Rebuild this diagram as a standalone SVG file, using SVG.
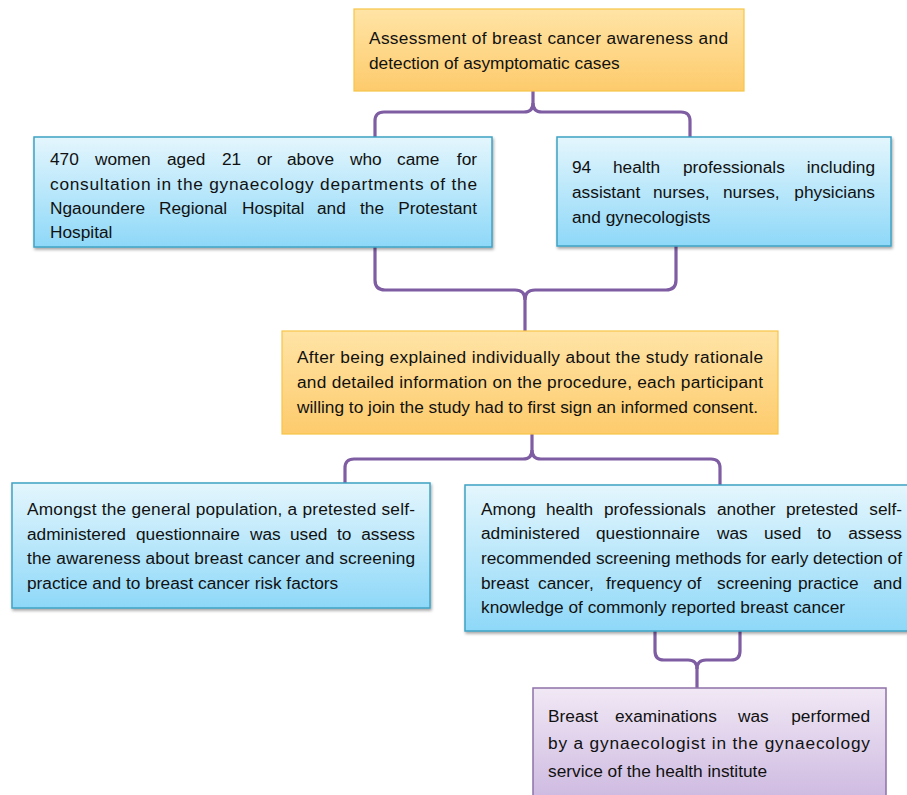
<svg xmlns="http://www.w3.org/2000/svg" width="907" height="795" viewBox="0 0 907 795">
<style>
  text { font-family: "Liberation Sans", Arial, sans-serif; font-size: 17.3px; fill: #111; }
  .orange { fill: url(#gOrange); stroke: #F7C546; stroke-width: 1.2; }
  .blue { fill: url(#gBlue); stroke: #3FA3C4; stroke-width: 1.5; filter: url(#shadow); }
  .purple { fill: url(#gPurple); stroke: #8E72A9; stroke-width: 1.5; }
  .brace { fill: none; stroke: #7E5DA3; stroke-width: 3.2; stroke-linejoin: round; stroke-linecap: butt; }
</style>
<defs>
  <linearGradient id="gOrange" x1="0" y1="0" x2="0" y2="1">
    <stop offset="0" stop-color="#FFE4A6"/>
    <stop offset="1" stop-color="#FDCB6C"/>
  </linearGradient>
  <linearGradient id="gBlue" x1="0" y1="0" x2="0" y2="1">
    <stop offset="0" stop-color="#E4F6FD"/>
    <stop offset="1" stop-color="#8ED8F8"/>
  </linearGradient>
  <linearGradient id="gPurple" x1="0" y1="0" x2="0" y2="1">
    <stop offset="0" stop-color="#F1E8F5"/>
    <stop offset="1" stop-color="#CBB6DF"/>
  </linearGradient>
  <filter id="shadow" x="-5%" y="-5%" width="110%" height="120%">
    <feDropShadow dx="1" dy="2" stdDeviation="1.5" flood-color="#000" flood-opacity="0.35"/>
  </filter>
</defs>

<g id="connectors">
  <path class="brace" d="M533,91 L533,103 Q533,112 524,112 L384,112 Q375,112 375,121 L375,137"/>
  <path class="brace" d="M533,103 Q533,112 542,112 L681,112 Q690,112 690,121 L690,137"/>
  <path class="brace" d="M375,247 L375,280 Q375,290 385,290 L515,290 Q525,290 525,300 L525,331"/>
  <path class="brace" d="M676,246 L676,280 Q676,290 666,290 L535,290 Q525,290 525,300"/>
  <path class="brace" d="M532,434 L532,450 Q532,459 523,459 L354,459 Q345,459 345,468 L345,483"/>
  <path class="brace" d="M532,450 Q532,459 541,459 L711,459 Q720,459 720,468 L720,485"/>
  <path class="brace" d="M655,631 L655,651 Q655,660 664,660 L688,660 Q697,660 697,669 L697,688"/>
  <path class="brace" d="M740,631 L740,651 Q740,660 731,660 L706,660 Q697,660 697,669"/>
</g>

<g id="node-assessment">
  <rect class="orange" x="354" y="9" width="390" height="82"/>
  <text x="369" y="44" textLength="359" lengthAdjust="spacing">Assessment of breast cancer awareness and</text>
  <text x="369" y="69">detection of asymptomatic cases</text>
</g>

<g id="node-women">
  <rect class="blue" x="34" y="137" width="458" height="110"/>
  <text y="165"><tspan x="50">470</tspan><tspan x="95">women</tspan><tspan x="167">aged</tspan><tspan x="222">21</tspan><tspan x="257">or</tspan><tspan x="287">above</tspan><tspan x="350">who</tspan><tspan x="397">came</tspan><tspan x="477" text-anchor="end">for</tspan></text>
  <text x="50" y="190" textLength="427" lengthAdjust="spacing">consultation in the gynaecology departments of the</text>
  <text y="214"><tspan x="50">Ngaoundere</tspan><tspan x="159">Regional</tspan><tspan x="242">Hospital</tspan><tspan x="317">and</tspan><tspan x="360">the</tspan><tspan x="477" text-anchor="end">Protestant</tspan></text>
  <text x="50" y="238">Hospital</text>
</g>

<g id="node-professionals">
  <rect class="blue" x="557" y="137" width="334" height="109"/>
  <text y="173"><tspan x="572">94</tspan><tspan x="613">health</tspan><tspan x="683">professionals</tspan><tspan x="875" text-anchor="end">including</tspan></text>
  <text y="198"><tspan x="572">assistant</tspan><tspan x="653">nurses,</tspan><tspan x="723">nurses,</tspan><tspan x="875" text-anchor="end">physicians</tspan></text>
  <text x="572" y="223">and gynecologists</text>
</g>

<g id="node-consent">
  <rect class="orange" x="282" y="331" width="496" height="103"/>
  <text x="297" y="363" textLength="466" lengthAdjust="spacing">After being explained individually about the study rationale</text>
  <text x="297" y="388" textLength="466" lengthAdjust="spacing">and detailed information on the procedure, each participant</text>
  <text x="297" y="413">willing to join the study had to first sign an informed consent.</text>
</g>

<g id="node-general">
  <rect class="blue" x="12" y="483" width="418" height="125"/>
  <text x="27" y="515" textLength="388" lengthAdjust="spacing">Amongst the general population, a pretested self-</text>
  <text y="540"><tspan x="27">administered</tspan><tspan x="136">questionnaire</tspan><tspan x="250">was</tspan><tspan x="290">used</tspan><tspan x="337">to</tspan><tspan x="415" text-anchor="end">assess</tspan></text>
  <text x="27" y="564" textLength="388" lengthAdjust="spacing">the awareness about breast cancer and screening</text>
  <text x="27" y="589">practice and to breast cancer risk factors</text>
</g>

<g id="node-health-questionnaire">
  <rect class="blue" x="465" y="485" width="450" height="146"/>
  <text y="515"><tspan x="481">Among</tspan><tspan x="546">health</tspan><tspan x="604">professionals</tspan><tspan x="717">another</tspan><tspan x="786">pretested</tspan><tspan x="902" text-anchor="end">self-</tspan></text>
  <text y="539"><tspan x="481">administered</tspan><tspan x="596">questionnaire</tspan><tspan x="717">was</tspan><tspan x="764">used</tspan><tspan x="817">to</tspan><tspan x="902" text-anchor="end">assess</tspan></text>
  <text x="481" y="564" textLength="421" lengthAdjust="spacing">recommended screening methods for early detection of</text>
  <text y="589"><tspan x="481">breast</tspan><tspan x="538">cancer,</tspan><tspan x="606">frequency</tspan><tspan x="687">of</tspan><tspan x="717">screening</tspan><tspan x="798">practice</tspan><tspan x="902" text-anchor="end">and</tspan></text>
  <text x="481" y="613">knowledge of commonly reported breast cancer</text>
</g>

<g id="node-examination">
  <rect class="purple" x="533" y="688" width="353" height="120"/>
  <text y="722"><tspan x="548">Breast</tspan><tspan x="615">examinations</tspan><tspan x="738">was</tspan><tspan x="870" text-anchor="end">performed</tspan></text>
  <text x="548" y="749" textLength="322" lengthAdjust="spacing">by a gynaecologist in the gynaecology</text>
  <text x="548" y="777">service of the health institute</text>
</g>
</svg>
